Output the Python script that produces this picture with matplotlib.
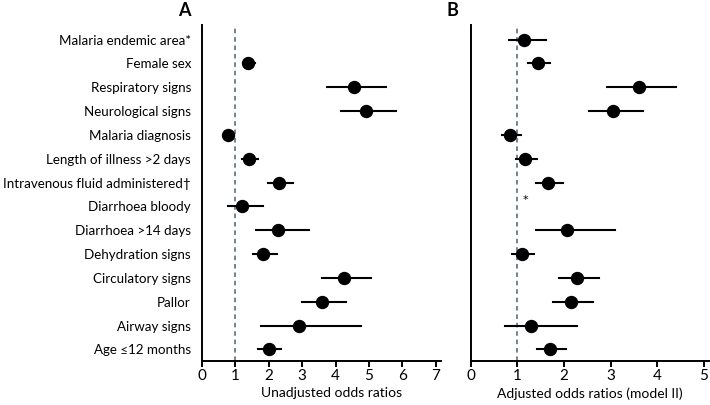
import matplotlib
matplotlib.use("Agg")
import matplotlib.pyplot as plt
import numpy as np

plt.rcParams['font.family'] = ['Lato', 'DejaVu Sans']

labels = ["Malaria endemic area*", "Female sex", "Respiratory signs", "Neurological signs",
          "Malaria diagnosis", "Length of illness >2 days", "Intravenous fluid administered\u2020",
          "Diarrhoea bloody", "Diarrhoea >14 days", "Dehydration signs", "Circulatory signs",
          "Pallor", "Airway signs", "Age \u226412 months"]

# Panel A: unadjusted odds ratios (None = not shown)
a_or = [None, 1.38, 4.54, 4.92, 0.77, 1.41, 2.31, 1.19, 2.29, 1.84, 4.26, 3.59, 2.91, 2.01]
a_lo = [None, 1.22, 3.74, 4.16, 0.72, 1.21, 1.97, 0.77, 1.62, 1.54, 3.59, 2.99, 1.77, 1.69]
a_hi = [None, 1.59, 5.52, 5.82, 0.83, 1.67, 2.72, 1.84, 3.21, 2.24, 5.06, 4.31, 4.77, 2.37]

# Panel B: adjusted odds ratios (model II)
b_or = [1.14, 1.44, 3.61, 3.06, 0.84, 1.17, 1.66, None, 2.07, 1.09, 2.28, 2.16, 1.30, 1.70]
b_lo = [0.82, 1.23, 2.92, 2.54, 0.66, 0.96, 1.40, None, 1.39, 0.89, 1.89, 1.77, 0.73, 1.42]
b_hi = [1.61, 1.70, 4.41, 3.69, 1.07, 1.42, 1.98, None, 3.09, 1.36, 2.75, 2.62, 2.28, 2.05]

a_ticks = [0, 1, 2, 3, 4, 5, 6, 7]
b_ticks = [0, 1, 2, 3, 4, 5]

fig = plt.figure(figsize=(7.1, 4.05), dpi=100)
axA = fig.add_axes([0.2845, 0.1086, 0.3362, 0.8294])
axB = fig.add_axes([0.663, 0.1086, 0.335, 0.8294])

def draw(ax, ors, los, his, xlim, ticks, xlabel):
    n = len(labels)
    ax.axvline(1, color='#4f6272', linestyle=(0, (3, 2.5)), linewidth=1.1, zorder=1)
    for i in range(n):
        if ors[i] is None:
            continue
        ax.plot([los[i], his[i]], [i, i], color='black', linewidth=1.5, zorder=2)
        ax.plot(ors[i], i, 'o', color='black', markersize=8.6, zorder=3)
    ax.set_ylim(n - 1 + 0.49, -0.61)
    ax.set_xlim(*xlim)
    ax.set_xticks(ticks)
    ax.set_xticklabels([str(t) for t in ticks], fontsize=11)
    ax.set_xlabel(xlabel, fontsize=10, labelpad=4)
    for s in ['top', 'right']:
        ax.spines[s].set_visible(False)
    for s in ['left', 'bottom']:
        ax.spines[s].set_linewidth(1.4)
    ax.tick_params(axis='x', direction='out', length=4.5, width=1.4, pad=1.5)
    ax.tick_params(axis='y', length=0)

draw(axA, a_or, a_lo, a_hi, (0, 7.15), a_ticks, "Unadjusted odds ratios")
draw(axB, b_or, b_lo, b_hi, (0, 5.1), b_ticks, "Adjusted odds ratios (model II)")
axA.xaxis.set_label_coords(0.5425, -0.078)
axB.xaxis.set_label_coords(0.5, -0.078)

axA.set_yticks(range(len(labels)))
axA.set_yticklabels(labels, fontsize=9.6)
axA.tick_params(axis='y', pad=8)
axB.set_yticks([])

fig.text(184 / 710, 1 - 10 / 405, "A", ha='center', va='center', fontsize=13, fontweight='bold')
fig.text(452 / 710, 1 - 10 / 405, "B", ha='center', va='center', fontsize=13, fontweight='bold')

axB.text(1.18, 6.75, "*", ha='center', va='center', fontsize=8, family='DejaVu Sans')

fig.savefig("out.png", dpi=100)
